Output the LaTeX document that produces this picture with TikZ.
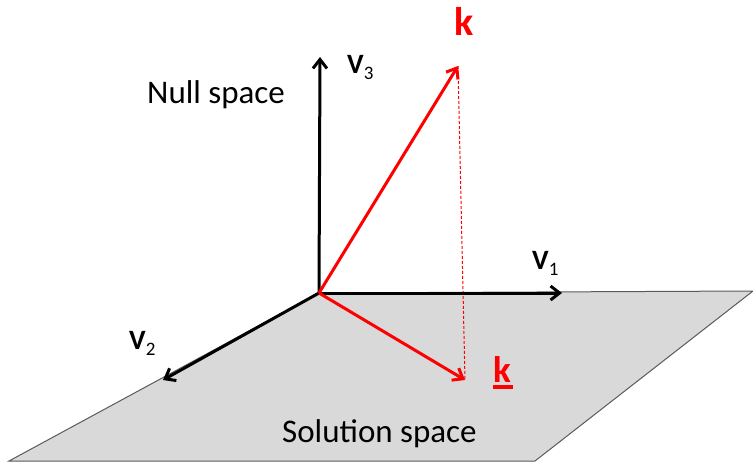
\documentclass[tikz,border=0pt]{standalone}
\usepackage{fontspec}
\setmainfont{Carlito}
\usetikzlibrary{arrows.meta}
\definecolor{kR}  {RGB}{255,   0,   0}
\definecolor{plG} {RGB}{217, 217, 217}
\definecolor{edG} {RGB}{ 90,  90,  90}
\tikzset{
  plane/.style = {draw=edG, fill=plG, line width=1pt, line join=miter},
  axis/.style  = {-{Straight Barb[length=9pt, width=14pt]}, line width=3pt,
                  color=black},
  kvec/.style  = {-{Straight Barb[length=9pt, width=14pt]}, line width=3pt,
                  color=kR},
  proj/.style  = {color=kR, line width=1pt, dash pattern=on 3pt off 2pt},
  vlbl/.style  = {anchor=base west, inner sep=0pt,
                  font=\fontsize{28}{30}\selectfont\bfseries},
  klbl/.style  = {anchor=base west, inner sep=0pt, text=kR,
                  font=\fontsize{40}{42}\selectfont\bfseries},
  spc/.style   = {anchor=base west, inner sep=0pt,
                  font=\fontsize{33}{36}\selectfont},
}
\newcommand{\vsub}[1]{V\raisebox{-6pt}{\fontsize{19}{19}\selectfont\mdseries #1}}
\newcommand{\kbar}{\makebox[0pt][l]{\rule[-6.5pt]{20pt}{3.5pt}}k}

\begin{document}
\begin{tikzpicture}[x=1pt, y=-1pt]
\useasboundingbox (0,0) rectangle (753,461);

% ---- Points -----------------------------------------------------------------
\coordinate (O)   at (319,293);
\coordinate (pTR) at (753,291);
\coordinate (pBR) at (535,461);
\coordinate (pBL) at (9,461);
\coordinate (v1)  at (562,293);
\coordinate (v2)  at (163,380);
\coordinate (v3)  at (320,57);
\coordinate (k)   at (458,66);
\coordinate (kp)  at (465,380);

% ---- Solution space plane ---------------------------------------------------
\draw[plane] (O) -- (pTR) -- (pBR) -- (pBL) -- cycle;

% ---- Projection line --------------------------------------------------------
\draw[proj] (k) -- (kp);

% ---- Basis vectors ----------------------------------------------------------
\draw[axis] (O) -- (v1);
\draw[axis] (O) -- (v2);
\draw[axis] (O) -- (v3);

% ---- k and its projection ---------------------------------------------------
\draw[kvec] (O) -- (k);
\draw[kvec] (O) -- (kp);

% ---- Labels -----------------------------------------------------------------
\node[vlbl] (l1) at (532,269) {\vsub{1}};
\node[vlbl] (l2) at (129,349) {\vsub{2}};
\node[vlbl] (l3) at (347,73)  {\vsub{3}};
\node[klbl] (lk)  at (454,35)  {k};
\node[klbl, font=\fontsize{37}{40}\selectfont\bfseries]
  (lkp) at (493,382) {\kbar};
\node[spc] (nul) at (147,103) {Null space};
\node[spc] (sol) at (282,442) {Solution space};

\end{tikzpicture}
\end{document}
